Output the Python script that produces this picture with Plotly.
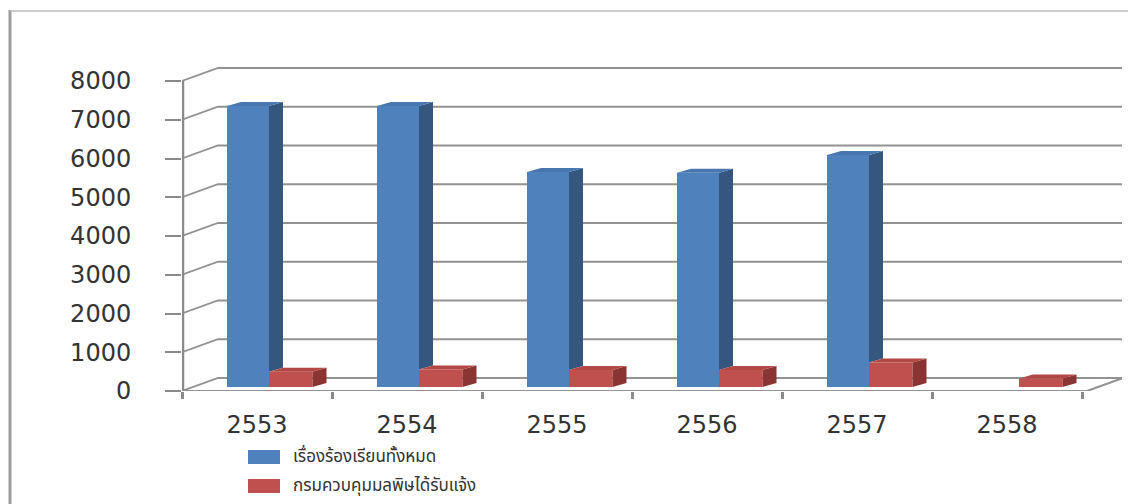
import plotly.graph_objects as go

# ---------------- data ----------------
years = [2553, 2554, 2555, 2556, 2557, 2558]
year_labels = ["2553", "2554", "2555", "2556", "2557", "2558"]
total_complaints = [7250, 7250, 5550, 5530, 5990, 0]
pcd_received = [395, 450, 440, 440, 630, 220]
series_names = ["เรื่องร้องเรียนทั้งหมด", "กรมควบคุมมลพิษได้รับแจ้ง"]
y_ticks = [0, 1000, 2000, 3000, 4000, 5000, 6000, 7000, 8000]

# ---------------- geometry (screen pixel helpers) ----------------
OFF = 8                      # page body margin
W, H = 1136 - OFF, 504 - OFF
S_L, S_R, S_T, S_B = 182, 1122, 60, 391   # plot area in screen pixels
PLOT_L, PLOT_R, PLOT_T, PLOT_B = S_L - OFF, S_R - OFF, S_T - OFF, S_B - OFF
PX_PER_UNIT_Y = 310 / 8000.0
PX_PER_CAT = 150.0


def dy(px):
    return px / PX_PER_UNIT_Y


def dx(px):
    return px / PX_PER_CAT


def px_x(sx):
    return (sx - S_L) / (S_R - S_L)


def px_y(sy):
    return (S_B - sy) / (S_B - S_T)


x0 = years[0] - 0.5
x_front_end = years[-1] + 0.5 + dx(5)
x_max = x0 + dx(S_R - S_L)
y_max = dy(S_B - S_T)

wall_dx, wall_dy = dx(36), dy(13)
bar_base = dy(4)
depth_dx, depth_dy = dx(14), dy(4)

blue_off, blue_w = dx(-30), dx(42)
red_off, red_w = dx(12), dx(43.5)

BLUE, BLUE_SIDE, BLUE_TOP = "#4F81BD", "#35577F", "#4877B0"
RED, RED_SIDE, RED_TOP = "#C0504D", "#8A3533", "#B34744"
GRID = "#929292"

fig = go.Figure()
fig.add_trace(go.Bar(x=years, y=total_complaints, base=bar_base, offset=blue_off,
                     width=blue_w, marker=dict(color=BLUE, line=dict(width=0)),
                     name=series_names[0], showlegend=False))
fig.add_trace(go.Bar(x=years, y=pcd_received, base=bar_base, offset=red_off,
                     width=red_w, marker=dict(color=RED, line=dict(width=0)),
                     name=series_names[1], showlegend=False))

shapes = []


def poly(pts, color, layer="above"):
    path = "M " + " L ".join(f"{a},{b}" for a, b in pts) + " Z"
    return dict(type="path", path=path, xref="x", yref="y", fillcolor=color,
                line=dict(width=0), layer=layer)


def seg(pts, color=GRID, width=1.8):
    path = "M " + " L ".join(f"{a},{b}" for a, b in pts)
    return dict(type="path", path=path, xref="x", yref="y",
                line=dict(color=color, width=width), layer="below")


# back wall gridlines with the perspective segment to the front axis
for v in y_ticks:
    shapes.append(seg([(x0, v), (x0 + wall_dx, v + wall_dy), (x_max, v + wall_dy)]))
# floor front edge and right edge
shapes.append(seg([(x0, 0), (x_front_end, 0), (x_front_end + wall_dx, wall_dy)], width=2))
# front value axis line
shapes.append(seg([(x0 + dx(1), 0), (x0 + dx(1), y_ticks[-1])], color="#8a8a8a", width=2.5))

# 3D faces of the columns
for xv, bv, rv in zip(years, total_complaints, pcd_received):
    bot = bar_base
    if bv > 0:
        xl = xv + blue_off
        xr = xl + blue_w
        top = bot + bv
        rtop = bot + max(rv, 0)
        shapes.append(poly([(xr, rtop), (xr + depth_dx, rtop + depth_dy),
                            (xr + depth_dx, top + depth_dy), (xr, top)], BLUE_SIDE))
        shapes.append(poly([(xl, top), (xl + depth_dx, top + depth_dy),
                            (xr + depth_dx, top + depth_dy), (xr, top)], BLUE_TOP))
    if rv > 0:
        xl = xv + red_off
        xr = xl + red_w
        top = bot + rv
        shapes.append(poly([(xr, bot), (xr + depth_dx, bot + depth_dy),
                            (xr + depth_dx, top + depth_dy), (xr, top)], RED_SIDE))
        shapes.append(poly([(xl, top), (xl + depth_dx, top + depth_dy),
                            (xr + depth_dx, top + depth_dy), (xr, top)], RED_TOP))

# outer frame lines
shapes.append(dict(type="line", xref="paper", yref="paper",
                   x0=px_x(10), x1=px_x(10), y0=px_y(10), y1=px_y(504),
                   line=dict(color="#9c9c9c", width=3)))
shapes.append(dict(type="line", xref="paper", yref="paper",
                   x0=px_x(10), x1=px_x(1136), y0=px_y(11), y1=px_y(11),
                   line=dict(color="#bdbdbd", width=1.5)))

# custom legend
annotations = []
legend_colors = [BLUE, RED]
legend_rows = [457, 486]
for name, col, cy in zip(series_names, legend_colors, legend_rows):
    shapes.append(dict(type="rect", xref="paper", yref="paper",
                       x0=px_x(248), x1=px_x(280), y0=px_y(cy - 7), y1=px_y(cy + 7),
                       fillcolor=col, line=dict(width=0)))
    annotations.append(dict(xref="paper", yref="paper", x=px_x(292), y=px_y(cy),
                            xanchor="left", yanchor="middle", showarrow=False,
                            borderpad=0, text=name,
                            font=dict(family="Noto Sans Thai, Tahoma, DejaVu Sans, sans-serif",
                                      size=17, color="#333333")))

tick_font = dict(family="DejaVu Sans", size=24, color="#333333")

fig.update_layout(
    width=W, height=H,
    margin=dict(l=PLOT_L, r=W - PLOT_R, t=PLOT_T, b=H - PLOT_B),
    paper_bgcolor="white", plot_bgcolor="white",
    barmode="overlay",
    showlegend=False,
    shapes=shapes,
    annotations=annotations,
    xaxis=dict(range=[x0, x_max], tickmode="array", tickvals=years, ticktext=year_labels,
               ticks="", showgrid=False, zeroline=False, showline=False,
               tickfont=tick_font, ticklabelstandoff=17,
               minor=dict(tickmode="array",
                          tickvals=[y - 0.5 for y in years] + [years[-1] + 0.5],
                          ticks="outside", ticklen=7, tickwidth=3, tickcolor="#8a8a8a",
                          showgrid=False)),
    yaxis=dict(range=[0, y_max], tickmode="array", tickvals=y_ticks,
               ticktext=[str(v) for v in y_ticks], ticks="outside", ticklen=16,
               tickwidth=2, tickcolor="#8a8a8a", showgrid=False, zeroline=False,
               showline=False, tickfont=tick_font, ticklabelstandoff=29),
)

fig.write_html("out.html")
